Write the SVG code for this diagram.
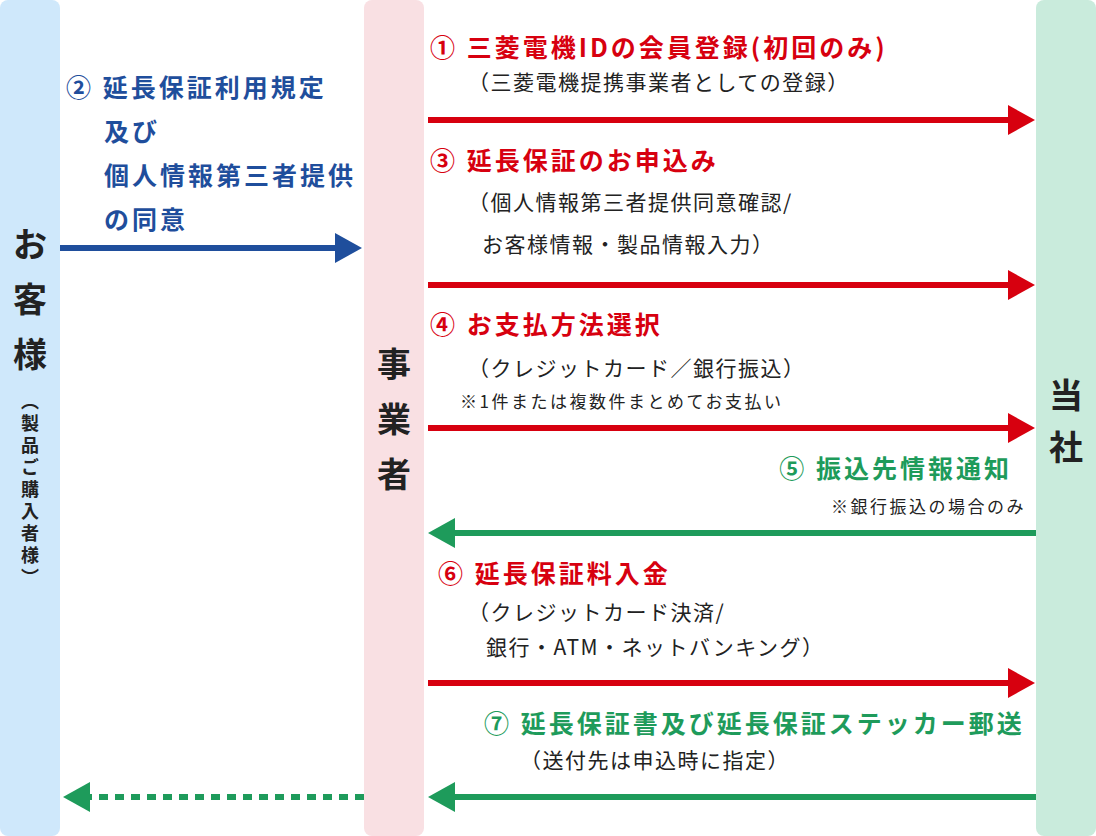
<svg xmlns="http://www.w3.org/2000/svg" width="1096" height="836" viewBox="0 0 1096 836">
<style>
text{font-family:"Noto Sans CJK JP","Noto Sans",sans-serif;}
.h{font-size:25px;font-weight:bold;letter-spacing:3px}
.s{font-size:21px;fill:#222;letter-spacing:1.5px}
.n{font-size:17px;fill:#222;letter-spacing:2.5px}
.r{fill:#d7000f}.g{fill:#1e9b5b}.b{fill:#1f4e9c}
.big{font-size:34px;font-weight:bold;fill:#222;text-anchor:middle}
</style>
<defs>
<marker id="mr" markerWidth="5" markerHeight="5" refX="0" refY="2.5" orient="auto" markerUnits="strokeWidth"><path d="M0,0 L4.5,2.5 L0,5Z" fill="#d7000f"/></marker>
<marker id="mg" markerWidth="5" markerHeight="5" refX="0" refY="2.5" orient="auto" markerUnits="strokeWidth"><path d="M0,0 L4.5,2.5 L0,5Z" fill="#1e9b5b"/></marker>
<marker id="mb" markerWidth="5" markerHeight="5" refX="0" refY="2.5" orient="auto" markerUnits="strokeWidth"><path d="M0,0 L4.5,2.5 L0,5Z" fill="#1f4e9c"/></marker>
</defs>
<rect width="1096" height="836" fill="#fff"/>
<g id="customer">
<rect x="0" y="0" width="60" height="836" rx="8" fill="#cfe8fb"/>
<text class="big" x="30" y="257">お</text>
<text class="big" x="30" y="312">客</text>
<text class="big" x="30" y="367">様</text>
<text x="30" y="392" writing-mode="vertical-rl" style="font-size:18px;font-weight:bold;fill:#222;text-orientation:upright;letter-spacing:4px">（製品ご購入者様）</text>
</g>
<g id="business">
<rect x="364" y="0" width="60" height="836" rx="8" fill="#f9e0e3"/>
<text class="big" x="394" y="377">事</text>
<text class="big" x="394" y="432">業</text>
<text class="big" x="394" y="487">者</text>
</g>
<g id="company">
<rect x="1036" y="0" width="60" height="836" rx="8" fill="#c9ebdc"/>
<text class="big" x="1066" y="408">当</text>
<text class="big" x="1066" y="460">社</text>
</g>
<g id="connectors" fill="none" stroke-width="6">
<line x1="428" y1="120" x2="1008" y2="120" stroke="#d7000f" marker-end="url(#mr)"/>
<line x1="428" y1="285" x2="1008" y2="285" stroke="#d7000f" marker-end="url(#mr)"/>
<line x1="428" y1="428" x2="1008" y2="428" stroke="#d7000f" marker-end="url(#mr)"/>
<line x1="428" y1="683" x2="1008" y2="683" stroke="#d7000f" marker-end="url(#mr)"/>
<line x1="1036" y1="533" x2="455" y2="533" stroke="#1e9b5b" marker-end="url(#mg)"/>
<line x1="1036" y1="797" x2="455" y2="797" stroke="#1e9b5b" marker-end="url(#mg)"/>
<line x1="364" y1="797" x2="90" y2="797" stroke="#1e9b5b" stroke-dasharray="9 7" marker-end="url(#mg)"/>
<line x1="60" y1="248" x2="335" y2="248" stroke="#1f4e9c" marker-end="url(#mb)"/>
</g>
<g id="labels">
<text class="h b" x="66" y="97">② 延長保証利用規定</text>
<text class="h b" x="104" y="141">及び</text>
<text class="h b" x="104" y="185">個人情報第三者提供</text>
<text class="h b" x="104" y="229">の同意</text>
<text class="h r" x="430" y="57">① 三菱電機IDの会員登録(初回のみ)</text>
<text class="s" x="468" y="90">（三菱電機提携事業者としての登録）</text>
<text class="h r" x="430" y="170">③ 延長保証のお申込み</text>
<text class="s" x="468" y="210">（個人情報第三者提供同意確認/</text>
<text class="s" x="482" y="252">お客様情報・製品情報入力）</text>
<text class="h r" x="430" y="334">④ お支払方法選択</text>
<text class="s" x="468" y="376">（クレジットカード／銀行振込）</text>
<text class="n" x="460" y="408">※1件または複数件まとめてお支払い</text>
<text class="h g" x="1012" y="478" text-anchor="end">⑤ 振込先情報通知</text>
<text class="n" x="1026" y="513" text-anchor="end">※銀行振込の場合のみ</text>
<text class="h r" x="438" y="583">⑥ 延長保証料入金</text>
<text class="s" x="468" y="620">（クレジットカード決済/</text>
<text class="s" x="486" y="655">銀行・ATM・ネットバンキング）</text>
<text class="h g" x="484" y="733">⑦ 延長保証書及び延長保証ステッカー郵送</text>
<text class="s" x="520" y="768">（送付先は申込時に指定）</text>
</g>
</svg>
